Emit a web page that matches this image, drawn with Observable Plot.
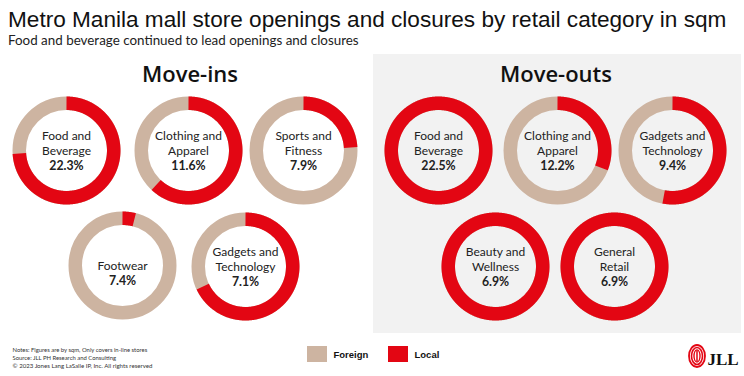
<!DOCTYPE html>
<html><head><meta charset="utf-8">
<script src="https://cdn.jsdelivr.net/npm/d3@7"></script>
<script src="https://cdn.jsdelivr.net/npm/@observablehq/plot@0.6"></script>
<style>
html,body{margin:0;padding:0;background:#fff}
body{width:744px;height:376px;overflow:hidden;position:relative}
#head{height:50px;position:relative}
#title{position:absolute;left:8px;top:7px;font:22.6px "Liberation Sans",Arial,sans-serif;color:#111;white-space:nowrap}
#subtitle{position:absolute;left:8px;top:31.5px;font:13.4px Lato,sans-serif;color:#222;white-space:nowrap}
#chart svg{display:block}
</style></head><body>
<div id="head">
  <div id="title">Metro Manila mall store openings and closures by retail category in sqm</div>
  <div id="subtitle">Food and beverage continued to lead openings and closures</div>
</div>
<div id="chart"></div>
<script>
// ---- data ----
const panels = ["Move-ins", "Move-outs"];
const moveInLabels = ["Food and\nBeverage", "Clothing and\nApparel", "Sports and\nFitness", "Footwear", "Gadgets and\nTechnology"];
const moveInShares = [22.3, 11.6, 7.9, 7.4, 7.1];          // % of total sqm
const moveInLocalPct = [74, 62, 24, 4, 68];                  // % local (red arc)
const moveOutLabels = ["Food and\nBeverage", "Clothing and\nApparel", "Gadgets and\nTechnology", "Beauty and\nWellness", "General\nRetail"];
const moveOutShares = [22.5, 12.2, 9.4, 6.9, 6.9];
const moveOutLocalPct = [100, 31, 53, 100, 100];
const origins = ["Foreign", "Local"];
const notes = ["Notes: Figures are by sqm, Only covers in-line stores", "Source: JLL PH Research and Consulting", "\u00a9 2023 Jones Lang LaSalle IP, Inc. All rights reserved"];

// ---- layout (page pixel coordinates) ----
const W = 744, TOP = 50, H = 376 - TOP;
const slots = {
  "Move-ins":  [[66,150],[188,150],[303,150],[122,265],[245,266]],
  "Move-outs": [[438,150],[557,150],[672,150],[495,266],[614,266]]
};
const headingX = {"Move-ins": 189.5, "Move-outs": 555.5};
const R = 47.25, RING = 13.5;
const noteSize = [5.9, 5.9, 6.1];

const donuts = [];
[[panels[0], moveInLabels, moveInShares, moveInLocalPct], [panels[1], moveOutLabels, moveOutShares, moveOutLocalPct]]
  .forEach(([panel, labels, shares, local]) => labels.forEach((label, i) => {
    const [cx, cy] = slots[panel][i];
    donuts.push({id: panel + i, panel, label, share: shares[i], local: local[i], cx, cy});
  }));

// Local arc geometry, clockwise from 12 o'clock
const arcPts = [];
for (const d of donuts) {
  if (d.local <= 0) continue;
  const end = d.local >= 100 ? 361 : d.local * 3.6;
  const n = Math.max(2, Math.ceil(end * 2));
  for (let k = 0; k <= n; k++) {
    const a = (end * k / n) * Math.PI / 180;
    arcPts.push({id: d.id, part: "Local", x: d.cx + R * Math.sin(a), y: d.cy - R * Math.cos(a)});
  }
}

const legendItems = origins.map((o, i) => ({o, x: 307 + i * 81}));

const chart = Plot.plot({
  width: W, height: H,
  margin: 0,
  x: {domain: [0, W], range: [0, W], axis: null},
  y: {domain: [TOP, 376], range: [0, H], axis: null},
  color: {domain: origins, range: ["#CDB4A1", "#E30613"]},
  style: {fontFamily: "Lato, sans-serif", background: "transparent"},
  marks: [
    Plot.rect([panels[1]], {x1: 373, x2: 741, y1: 54, y2: 333, fill: "#f2f2f2"}),
    Plot.text(panels, {x: d => headingX[d], y: 81.5, text: d => d, lineAnchor: "bottom",
      fontFamily: "Open Sans", fontWeight: 600, fontSize: 22, fill: "#111"}),
    Plot.dot(donuts, {x: "cx", y: "cy", r: R, fill: "none", stroke: () => "Foreign", strokeWidth: RING}),
    Plot.line(arcPts, {x: "x", y: "y", z: "id", stroke: "part", strokeWidth: RING, strokeLinecap: "butt", strokeLinejoin: "round", curve: "linear"}),
    Plot.text(donuts, {x: "cx", y: "cy", text: "label", lineAnchor: "bottom", dy: 4, lineHeight: 1.25,
      fontSize: 12, fontFamily: "Lato", fill: "#222"}),
    Plot.text(donuts, {x: "cx", y: "cy", text: d => d.share.toFixed(1) + "%", lineAnchor: "bottom", dy: 19,
      fontSize: 12.3, fontFamily: "Lato", fontWeight: "bold", fill: "#222"}),
    Plot.rect(legendItems, {x1: "x", x2: d => d.x + 20, y1: 346, y2: 362, fill: "o"}),
    Plot.text(legendItems, {x: d => d.x + 26, y: 354, text: "o", textAnchor: "start",
      fontFamily: "Liberation Sans", fontWeight: "bold", fontSize: 9.5, fill: "#111"}),
    Plot.text(notes, {x: 12, y: (d, i) => 351 + i * 8.3, text: d => d, textAnchor: "start", lineAnchor: "bottom",
      fontFamily: "Lato", fontSize: (d, i) => noteSize[i], fill: "#333"}),
    Plot.text(["JLL"], {x: 707, y: 364, text: d => d, textAnchor: "start", lineAnchor: "bottom",
      fontFamily: "Liberation Serif", fontWeight: "bold", fontSize: 17, fill: "#111"})
  ]
});

// JLL logo mark (decoration)
const g = d3.select(chart).append("g").attr("transform", `translate(697,${356 - TOP})`)
  .attr("fill", "none").attr("stroke", "#E30613");
[[8, 11, 1.8], [5.5, 8.5, 1.6], [3, 6, 1.4]].forEach(([rx, ry, w]) =>
  g.append("ellipse").attr("rx", rx).attr("ry", ry).attr("stroke-width", w));
g.append("line").attr("y1", -5).attr("y2", 5).attr("stroke-width", 1.5);

document.getElementById("chart").append(chart);
</script>
</body></html>
